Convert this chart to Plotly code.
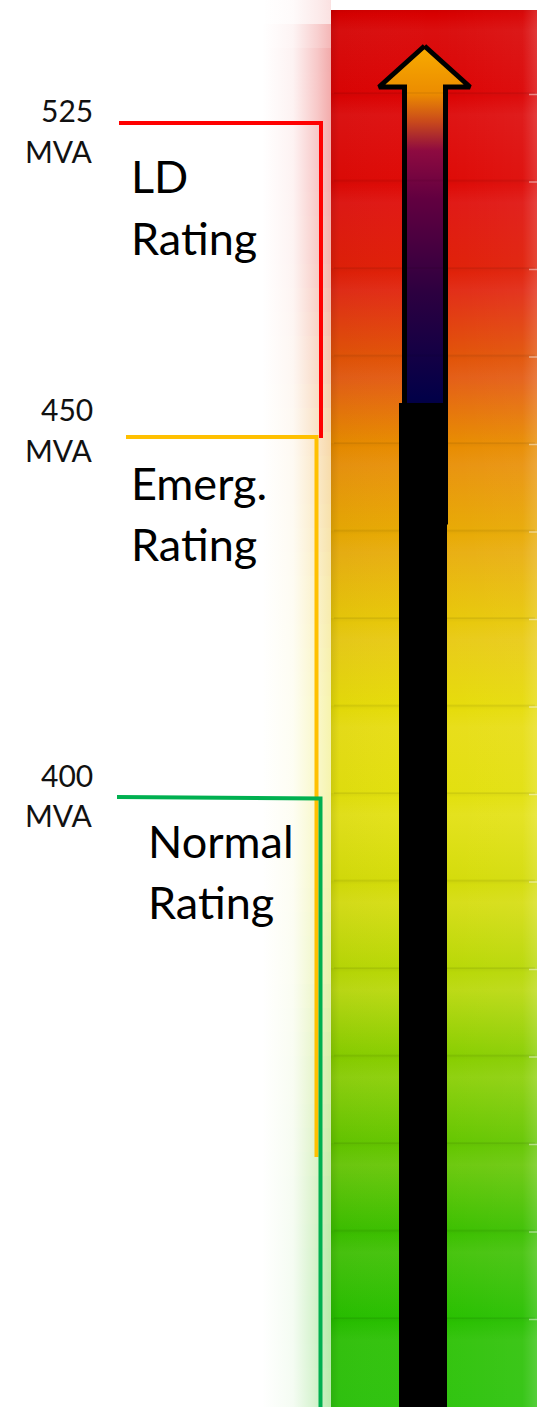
import plotly.graph_objects as go

# ---------------- data ----------------
rating_names = ["LD Rating", "Emerg. Rating", "Normal Rating"]
rating_mva = [525, 450, 400]
mva_unit = "MVA"

# ---------------- layout / style config ----------------
W, H = 551, 1407
level_y = [123, 437, 797]                 # screen rows of the three rating levels
level_y_end = [123, 437, 798.5]           # where the horizontal tick meets the vertical
line_x0 = [119, 126, 117]
line_vx = [321, 316.5, 320.5]
line_bottom = [438, 1157, 1407]
line_colors = ["#FF0000", "#FFC000", "#00B050"]
num_cap_mid = [(110, 151), (409, 450), (775, 815)]
lab_cap_mid = [(176, 238), (483, 544), (841, 902)]
lab_x = [129, 129, 146]

bar_x0, bar_x1, bar_top = 331, 537, 10
seg_bounds = [10, 93, 180.5, 268, 355.5, 443, 530.5, 618, 705.5, 793,
              880.5, 968, 1055.5, 1143, 1230.5, 1318, 1407]
seg_colors = ["#D80000", "#DC0404", "#DE0A06", "#E02008", "#E25408", "#E88C00",
              "#E8AA04", "#E8C80A", "#E6DC0A", "#E2E00E", "#D4DC0A", "#B8D806",
              "#88CE00", "#64C600", "#3CC000", "#28C000", "#30C410"]


def hex2rgb(h):
    h = h.lstrip("#")
    return tuple(int(h[i:i + 2], 16) for i in (0, 2, 4))


def mix(c, t, f):
    return tuple(round(a + (b - a) * f) for a, b in zip(c, t))


def rgba(c, a=1.0):
    return f"rgba({c[0]},{c[1]},{c[2]},{a})"


def color_at(y):
    for i in range(len(seg_bounds) - 1):
        if seg_bounds[i] <= y <= seg_bounds[i + 1]:
            f = (y - seg_bounds[i]) / (seg_bounds[i + 1] - seg_bounds[i])
            return mix(hex2rgb(seg_colors[i]), hex2rgb(seg_colors[i + 1]), f)
    return hex2rgb(seg_colors[0] if y < seg_bounds[0] else seg_colors[-1])


fig = go.Figure()

# glow on the left of the bar (horizontal strips, drawn as shapes with exact edges)
step = 24
y = 0
while y < H:
    y1 = min(H, y + step)
    c = mix(color_at((y + y1) / 2), (255, 255, 255), 0.2)
    top_fade = 1.0 if y >= 30 else max(0.35, (y + 10) / 40)
    a = 0.42 * top_fade
    fig.add_trace(go.Scatter(
        x=[262, bar_x0, bar_x0, 262, 262], y=[y, y, y1, y1, y],
        mode="lines", line=dict(width=0), fill="toself",
        fillgradient=dict(type="horizontal", start=262, stop=bar_x0,
                          colorscale=[[0, rgba(c, 0)], [0.45, rgba(c, a * 0.15)],
                                      [0.8, rgba(c, a * 0.65)], [1, rgba(c, a)]]),
        hoverinfo="skip", showlegend=False))
    y = y1

# bar segments
for i in range(len(seg_bounds) - 1):
    y0, y1 = seg_bounds[i], seg_bounds[i + 1]
    ct = hex2rgb(seg_colors[i])
    cb = hex2rgb(seg_colors[i + 1])
    light = mix(ct, (255, 255, 255), 0.06)
    dark = mix(ct, (0, 0, 0), 0.04)
    fig.add_trace(go.Scatter(
        x=[bar_x0, bar_x1, bar_x1, bar_x0, bar_x0], y=[y0, y0, y1 + 0.5, y1 + 0.5, y0],
        mode="lines", line=dict(width=0), fill="toself",
        fillgradient=dict(type="vertical", start=y0, stop=y1,
                          colorscale=[[0, rgba(dark)], [0.05, rgba(ct)],
                                      [0.25, rgba(light)], [1, rgba(cb)]]),
        hoverinfo="skip", showlegend=False))

# horizontal shading across the bar (left shadow, right highlight)
fig.add_trace(go.Scatter(
    x=[bar_x0, bar_x1, bar_x1, bar_x0, bar_x0], y=[bar_top, bar_top, H, H, bar_top],
    mode="lines", line=dict(width=0), fill="toself",
    fillgradient=dict(type="horizontal", start=bar_x0, stop=bar_x1,
                      colorscale=[[0, "rgba(0,0,0,0.10)"], [0.04, "rgba(0,0,0,0.02)"],
                                  [0.5, "rgba(255,255,255,0.0)"], [0.93, "rgba(255,255,255,0.04)"],
                                  [1, "rgba(255,255,255,0.18)"]]),
    hoverinfo="skip", showlegend=False))

# segment dividers
for yb in seg_bounds[1:-1]:
    fig.add_shape(type="line", x0=bar_x0 + 3, x1=bar_x1 - 2, y0=yb, y1=yb,
                  line=dict(color="rgba(0,0,0,0.05)", width=2), layer="above")
    fig.add_shape(type="line", x0=bar_x1 - 8, x1=bar_x1, y0=yb + 1.5, y1=yb + 1.5,
                  line=dict(color="rgba(255,255,255,0.45)", width=1.5), layer="above")

# arrow with gradient fill
arrow_x = [424.5, 470, 445.5, 445.5, 404.5, 404.5, 379, 424.5]
arrow_y = [46, 87, 87, 522, 522, 87, 87, 46]
fig.add_trace(go.Scatter(
    x=arrow_x, y=arrow_y, mode="lines", line=dict(color="black", width=5),
    fill="toself",
    fillgradient=dict(type="vertical", start=46, stop=522,
                      colorscale=[[0, "#F8AC00"], [0.10, "#EC8C00"], [0.16, "#C8481C"],
                                  [0.22, "#8E0A40"], [0.32, "#620040"], [0.52, "#2C0040"],
                                  [0.74, "#020048"], [0.88, "#050018"], [1, "#000000"]]),
    hoverinfo="skip", showlegend=False))

# solid black shaft
fig.add_trace(go.Scatter(
    x=[399, 447, 447, 399, 399], y=[403, 403, H, H, 403],
    mode="lines", line=dict(width=0), fill="toself", fillcolor="black",
    hoverinfo="skip", showlegend=False))

# rating bracket lines
for i in range(len(rating_mva)):
    fig.add_trace(go.Scatter(
        x=[line_x0[i], line_vx[i], line_vx[i]],
        y=[level_y[i], level_y_end[i], line_bottom[i]],
        mode="lines", line=dict(color=line_colors[i], width=4),
        hoverinfo="skip", showlegend=False))

# text
for i, (name, mva) in enumerate(zip(rating_names, rating_mva)):
    for txt, ym in zip([str(mva), mva_unit], num_cap_mid[i]):
        fig.add_annotation(x=95, y=ym, text=txt, showarrow=False, xanchor="right",
                           yanchor="middle", font=dict(family="Lato", size=30, color="#111111"))
    for txt, ym in zip(name.split(" "), lab_cap_mid[i]):
        fig.add_annotation(x=lab_x[i], y=ym, text=txt, showarrow=False, xanchor="left",
                           yanchor="middle", font=dict(family="Lato", size=45, color="#000000"))

fig.update_layout(
    width=W, height=H, margin=dict(l=0, r=0, t=0, b=0),
    paper_bgcolor="white", plot_bgcolor="white",
    xaxis=dict(range=[0, W], visible=False, fixedrange=True),
    yaxis=dict(range=[H, 0], visible=False, fixedrange=True),
    showlegend=False,
)
fig.write_html("out.html", config={"displayModeBar": False},
               post_script="document.body.style.margin='0';document.body.style.overflow='hidden';")
